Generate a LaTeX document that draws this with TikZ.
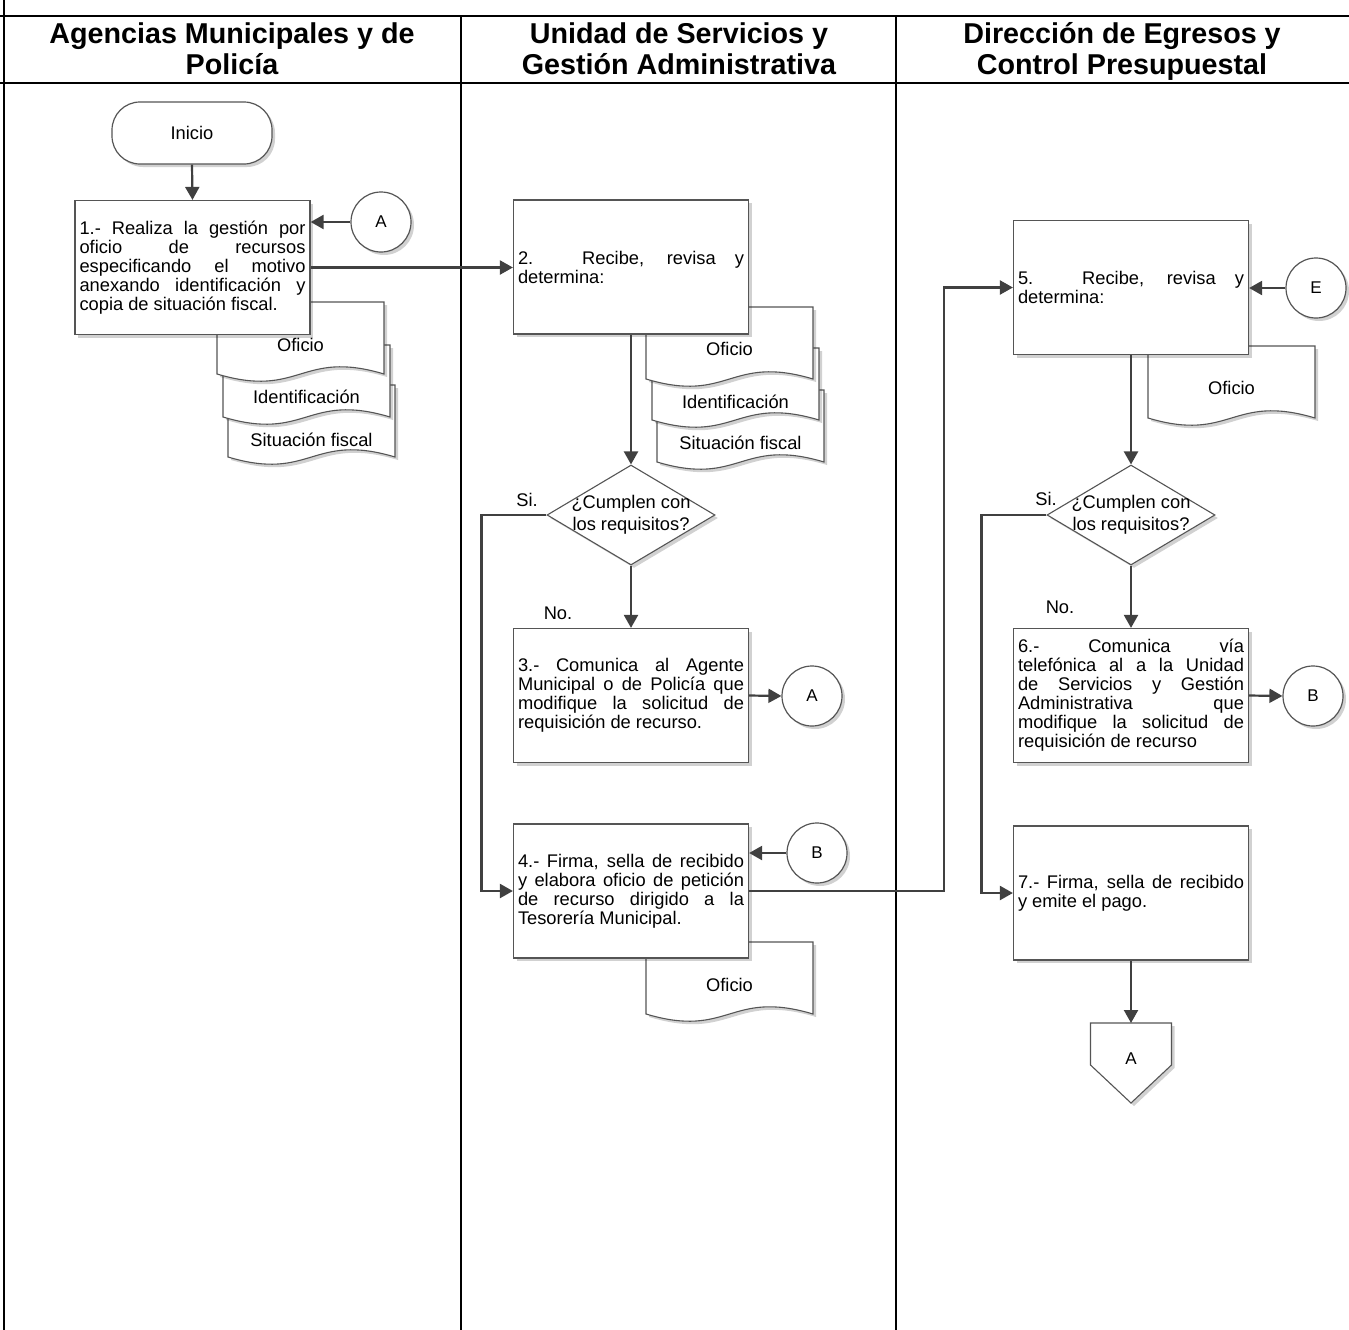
\documentclass[tikz,border=0pt]{standalone}
\usepackage{fontspec}
\setmainfont{Liberation Sans}
\usepackage{tikz}
\usetikzlibrary{positioning,arrows.meta,calc,shapes.geometric,shadows}
\definecolor{ink}{RGB}{64,64,64}
\definecolor{edge}{RGB}{85,85,85}

\newcommand{\bodyfont}{\fontsize{18.3}{19}\selectfont}
\newcommand{\hdrfont}{\fontsize{28.7}{31}\selectfont\bfseries}
\newcommand{\jbreak}{\linebreak}
\tolerance=10000
\hbadness=10000
\hyphenpenalty=10000

% document sheet: name, left, top, text y, text
\newcommand{\docsheet}[5]{%
  \path[doc] ({#2},{#3}) -- ({#2+167},{#3}) -- ({#2+167},{#3+72})
     .. controls +(-83.5,-25) and +(83.5,25) .. ({#2},{#3+72}) -- cycle;
  \node[doctxt] (#1) at ({#2+83.5},{#4}) {#5};}

\begin{document}
\begin{tikzpicture}[x=1pt, y=-1pt,
  >={Triangle[length=13pt,width=14pt]},
  sdw/.style={drop shadow={shadow xshift=3pt, shadow yshift=-3pt, fill=black, opacity=0.18}},
  lane/.style={line width=2pt, black},
  hdr/.style={align=center, font=\hdrfont, inner sep=0pt},
  term/.style={draw=edge, line width=1.2pt, fill=white, rounded corners=28pt, minimum width=160pt, minimum height=62pt, font=\bodyfont, sdw},
  act/.style={draw=edge, line width=1.2pt, fill=white, minimum width=235pt, minimum height=134pt, text width=226pt, inner xsep=4.5pt, inner ysep=0pt, align=justify, font=\bodyfont, sdw},
  dec/.style={diamond, draw=edge, line width=1.1pt, fill=white, minimum width=168pt, minimum height=100pt, inner sep=0pt, aspect=1.68, sdw},
  qtxt/.style={align=center, font=\fontsize{18.3}{22}\selectfont, inner sep=0pt},
  conn/.style={circle, draw=edge, line width=1.2pt, fill=white, minimum size=60pt, inner sep=0pt, font=\fontsize{17}{18}\selectfont, sdw},
  doc/.style={draw=edge, line width=1.1pt, fill=white, sdw},
  doctxt/.style={font=\bodyfont, inner sep=0pt},
  lbl/.style={font=\bodyfont, inner sep=0pt},
  flow/.style={->, ink, line width=2.2pt},
]
\useasboundingbox (0,0) rectangle (1349,1330);

% ---- swimlanes ----
\draw[lane] (0,16) -- (1349,16);
\draw[lane] (0,83) -- (1349,83);
\draw[lane, line width=2.5pt] (4,0) -- (4,1330);
\draw[lane] (461,16) -- (461,1330);
\draw[lane] (896,16) -- (896,1330);

\node[hdr] (hdA) at (232,53) {\strut Agencias Municipales y de\\\strut Policía};
\node[hdr] (hdB) at (679,53) {\strut Unidad de Servicios y\\\strut Gestión Administrativa};
\node[hdr] (hdC) at (1122,53) {\strut Dirección de Egresos y\\\strut Control Presupuestal};

% ---- documents (behind the boxes) ----
\docsheet{docA3}{228}{385}{440}{Situación fiscal}
\docsheet{docA2}{223}{345}{397}{Identificación}
\docsheet{docA1}{217}{302}{345}{Oficio}
\docsheet{docB3}{657}{390}{443}{Situación fiscal}
\docsheet{docB2}{652}{348}{402}{Identificación}
\docsheet{docB1}{646}{307}{349}{Oficio}
\docsheet{docB4}{646}{942}{985}{Oficio}
\docsheet{docC1}{1148}{346}{388}{Oficio}

% ---- lane 1 ----
\node[term] (ini) at (192,133) {Inicio};
\node[act] (act1) at (192.5,267.5) {1.- Realiza la gestión por\jbreak oficio de recursos\jbreak especificando el motivo\jbreak anexando identificación y\jbreak copia de situación fiscal.};
\node[conn] (conA1) at (381,222) {A};

% ---- lane 2 ----
\node[act] (act2) at (631,267) {2. Recibe, revisa y\jbreak determina:};
\node[dec] (dec1) at (631,515) {};
\node[qtxt] (q1) at (dec1) {¿Cumplen con\\los requisitos?};
\node[lbl] (si1) at (527,500) {Si.};
\node[lbl] (no1) at (558,613) {No.};
\node[act] (act3) at (631,695.5) {3.- Comunica al Agente\jbreak Municipal o de Policía que\jbreak modifique la solicitud de\jbreak requisición de recurso.};
\node[conn] (conA2) at (812,696) {A};
\node[act] (act4) at (631,891) {4.- Firma, sella de recibido\jbreak y elabora oficio de petición\jbreak de recurso dirigido a la\jbreak Tesorería Municipal.};
\node[conn] (conB1) at (817,853) {B};

% ---- lane 3 ----
\node[act] (act5) at (1131,287.5) {5. Recibe, revisa y\jbreak determina:};
\node[conn] (conE) at (1316,288) {E};
\node[dec] (dec2) at (1131,515) {};
\node[qtxt] (q2) at (dec2) {¿Cumplen con\\los requisitos?};
\node[lbl] (si2) at (1046,499) {Si.};
\node[lbl] (no2) at (1060,607) {No.};
\node[act] (act6) at (1131,695.5) {6.- Comunica vía\jbreak telefónica al a la Unidad\jbreak de Servicios y Gestión\jbreak Administrativa que\jbreak modifique la solicitud de\jbreak requisición de recurso};
\node[conn] (conB2) at (1313,696) {B};
\node[act] (act7) at (1131,893) {7.- Firma, sella de recibido\jbreak y emite el pago.};

% off-page connector
\coordinate (offA) at (1131,1023);
\path[doc] ($(offA)+(-40.5,0)$) -- ($(offA)+(40.5,0)$) -- ($(offA)+(40.5,42)$)
   -- ($(offA)+(0,80)$) -- ($(offA)+(-40.5,42)$) -- cycle;
\node[lbl, font=\fontsize{17}{18}\selectfont] (offAtxt) at ($(offA)+(0,36)$) {A};

% ============ arrows ============
\draw[flow] (ini.south) -- (act1.north);
\draw[flow] (conA1.west) -- (conA1 -| act1.east);
\draw[flow] (act1.east) -- (act1.east -| act2.west);
\draw[flow] (act2.south) -- (dec1.north);
\draw[flow] (dec1.west) -- ++(-65,0) |- (act4.west);
\draw[flow] (dec1.south) -- (act3.north);
\draw[flow] (act3.east) -- (conA2.west);
\draw[flow] (conB1.west) -- (conB1 -| act4.east);
\draw[flow] (act4.east) -- ++(195,0) |- (act5.west);
\draw[flow] (conE.west) -- (conE -| act5.east);
\draw[flow] (act5.south) -- (dec2.north);
\draw[flow] (dec2.west) -- ++(-65,0) |- (act7.west);
\draw[flow] (dec2.south) -- (act6.north);
\draw[flow] (act6.east) -- (conB2.west);
\draw[flow] (act7.south) -- (offA);

\end{tikzpicture}
\end{document}
